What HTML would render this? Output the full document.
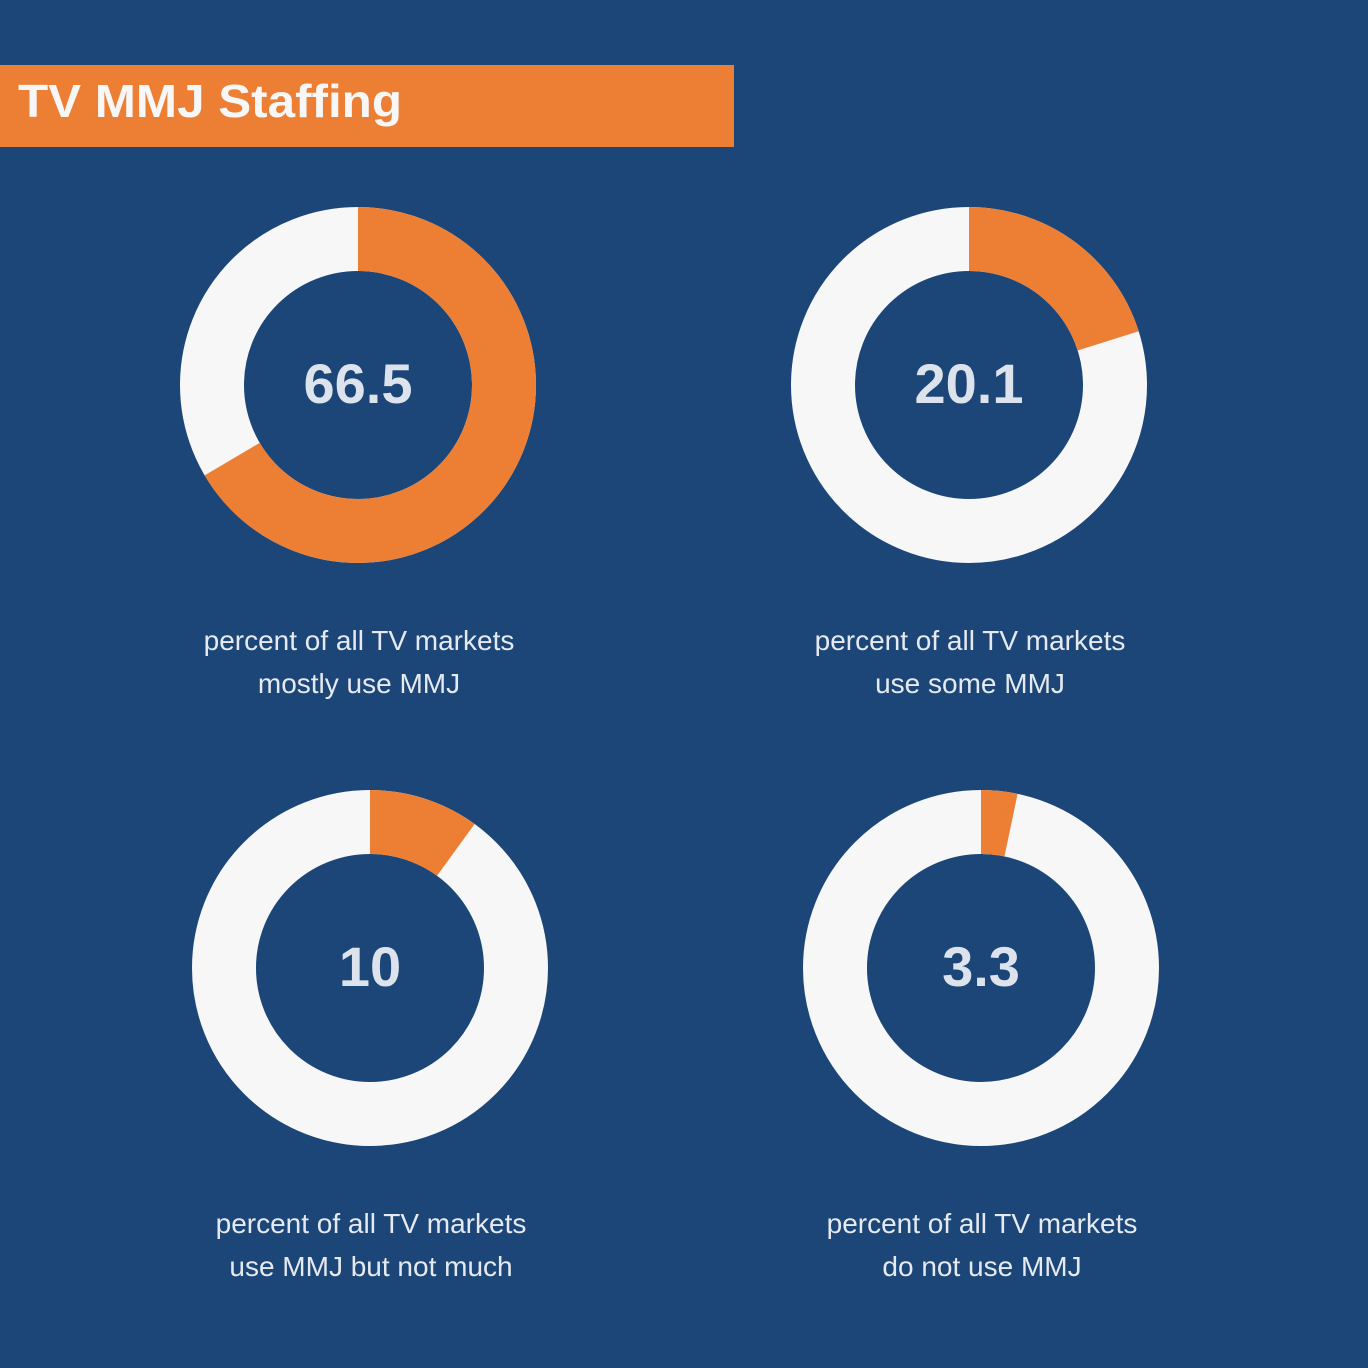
<!DOCTYPE html>
<html><head><meta charset="utf-8"><style>
html,body{margin:0;padding:0;background:#1b4677;}
svg{display:block;}
</style></head><body>
<svg id="chart" width="1368" height="1368" viewBox="0 0 1368 1368" xmlns="http://www.w3.org/2000/svg">
<rect x="0" y="0" width="1368" height="1368" fill="#1b4677"/>
<rect x="0" y="65" width="734" height="82" fill="#ed7f35"/>
<text x="18" y="117" font-family="Liberation Sans, sans-serif" font-weight="bold" font-size="46" fill="#f7f7f7" textLength="384" lengthAdjust="spacingAndGlyphs">TV MMJ Staffing</text>
</svg>
<script>
const values = [66.5, 20.1, 10, 3.3];
const valueLabels = ["66.5", "20.1", "10", "3.3"];
const captionLine1 = ["percent of all TV markets","percent of all TV markets","percent of all TV markets","percent of all TV markets"];
const captionLine2 = ["mostly use MMJ","use some MMJ","use MMJ but not much","do not use MMJ"];
const names = ["mostly-use","use-some","not-much","do-not-use"];

const svg = document.getElementById('chart');
const NS = 'http://www.w3.org/2000/svg';
const centers = [[358,385],[969,385],[370,968],[981,968]];
const R = 146, W = 64;
const C = 2*Math.PI*R;
function mk(tag, attrs){const e=document.createElementNS(NS,tag);for(const k in attrs)e.setAttribute(k,attrs[k]);svg.appendChild(e);return e;}
values.forEach((v,i)=>{
  const [cx,cy]=centers[i];
  const ring=mk('circle',{cx,cy,r:R,fill:'none',stroke:'#f7f7f7','stroke-width':W});
  
  
  const len=C*v/100;
  const arc=mk('circle',{cx,cy,r:R,fill:'none',stroke:'#ed7f35','stroke-width':W,
    'stroke-dasharray':len+' '+(C-len),transform:'rotate(-90 '+cx+' '+cy+')'});
  
  
  const t=mk('text',{x:cx,y:cy+18,'text-anchor':'middle','font-family':'Liberation Sans, sans-serif','font-weight':'bold','font-size':56,fill:'#dde3ec'});
  t.textContent=valueLabels[i];
  
  
  const l1=mk('text',{x:cx+1,y:cy+265,'text-anchor':'middle','font-family':'Liberation Sans, sans-serif','font-size':28,fill:'#e6eaf0'});
  l1.textContent=captionLine1[i];
  
  
  const l2=mk('text',{x:cx+1,y:cy+308,'text-anchor':'middle','font-family':'Liberation Sans, sans-serif','font-size':28,fill:'#e6eaf0'});
  l2.textContent=captionLine2[i];
  
  
});
</script>
</body></html>
